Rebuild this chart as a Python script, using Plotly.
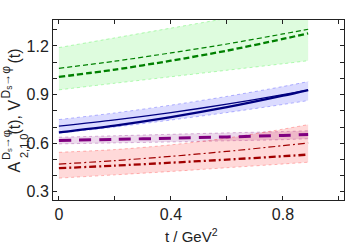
import plotly.graph_objects as go

t = [0.0, 0.2, 0.4, 0.6, 0.8, 0.89]

# V form factor (green)
green_thin = [1.062, 1.106, 1.157, 1.212, 1.274, 1.303]
green_thick = [1.009, 1.054, 1.109, 1.171, 1.243, 1.278]
green_up = [1.19, 1.25, 1.31, 1.37, 1.43, 1.457]
green_lo = [0.929, 0.970, 1.010, 1.050, 1.090, 1.109]

# A1 (blue)
blue_thin = [0.705, 0.744, 0.789, 0.841, 0.900, 0.928]
blue_thick = [0.667, 0.709, 0.761, 0.822, 0.893, 0.928]
blue_up = [0.746, 0.787, 0.835, 0.889, 0.950, 0.980]
blue_lo = [0.662, 0.700, 0.743, 0.789, 0.839, 0.863]

# A0 (purple)
purple_line = [0.617, 0.624, 0.631, 0.639, 0.648, 0.654]
purple_up = [0.637, 0.646, 0.655, 0.664, 0.672, 0.677]
purple_lo = [0.596, 0.602, 0.608, 0.615, 0.622, 0.628]

# A2 (red)
red_thin = [0.471, 0.493, 0.519, 0.550, 0.585, 0.602]
red_thick = [0.446, 0.462, 0.480, 0.499, 0.520, 0.530]
red_up = [0.544, 0.561, 0.590, 0.632, 0.687, 0.715]
red_lo = [0.385, 0.405, 0.426, 0.449, 0.472, 0.483]

x_ticks = [0, 0.4, 0.8]
x_labels = ["0", "0.4", "0.8"]
y_ticks = [0.3, 0.6, 0.9, 1.2]
y_labels = ["0.3", "0.6", "0.9", "1.2"]

fig = go.Figure()

def band(lo, up, rgb, alpha):
    edge = f"rgba({rgb},0.35)"
    fig.add_trace(go.Scatter(x=t, y=lo, mode="lines",
                             line=dict(color=edge, width=0.8, dash="dot", shape="spline", smoothing=0.8),
                             showlegend=False, hoverinfo="skip"))
    fig.add_trace(go.Scatter(x=t, y=up, mode="lines",
                             line=dict(color=edge, width=0.8, dash="dot", shape="spline", smoothing=0.8),
                             fill="tonexty", fillcolor=f"rgba({rgb},{alpha})", showlegend=False, hoverinfo="skip"))

band(green_lo, green_up, "0,235,0", 0.13)
band(blue_lo, blue_up, "0,0,255", 0.14)
band(purple_lo, purple_up, "128,0,128", 0.15)
band(red_lo, red_up, "255,0,0", 0.15)

def line(y, color, width, dash):
    fig.add_trace(go.Scatter(x=t, y=y, mode="lines",
                             line=dict(color=color, width=width, dash=dash, shape="spline", smoothing=0.8),
                             showlegend=False))

line(green_thin, "#008000", 1.2, "5px,3px")
line(green_thick, "#008000", 2.3, "6px,3px")
line(blue_thin, "#000080", 1.3, "solid")
line(blue_thick, "#000080", 2.3, "solid")
line(purple_line, "#800080", 3.0, "12px,8px")
line(red_thin, "#a00000", 1.2, "7px,3px,2px,3px")
line(red_thick, "#a00000", 2.3, "7px,3px,2px,3px")

L, R, T, B = 53, 5, 20, 47
W, H = 349, 247
pw, ph = W - L - R, H - T - B

def px(xp):
    return (xp - L) / pw

def py(yp):
    return (H - B - yp) / ph

font = "Liberation Sans, Arial, sans-serif"
main = 16
small = 11

pieces = [
    ("A", 175, 14, main),
    ("2,1,0", 160, 24, small),
    ("D<sub>s</sub>→φ", 162, 7, small),
    ("(t), V", 137, 14, main),
    ("D<sub>s</sub>→φ", 101, 7, 12),
    ("(t)", 66, 14, main),
]
for txt, ystart, xc, fs in pieces:
    fig.add_annotation(text=txt, xref="paper", yref="paper", x=px(xc), y=py(ystart),
                       xanchor="center", yanchor="bottom", textangle=-90, showarrow=False,
                       font=dict(family=font, size=fs, color="#222"))

fig.add_annotation(text="t / GeV<sup>2</sup>", xref="paper", yref="paper", x=px(191), y=py(235),
                   xanchor="center", yanchor="middle", showarrow=False,
                   font=dict(family=font, size=main - 1, color="#222"))

fig.update_layout(
    width=W, height=H,
    margin=dict(l=L, r=R, t=T, b=B),
    paper_bgcolor="white", plot_bgcolor="white",
    font=dict(family=font, size=main, color="#222"),
    xaxis=dict(range=[-0.021, 1.018], tickvals=x_ticks, ticktext=x_labels,
               ticks="inside", ticklen=4, tickcolor="#222", showline=True, linecolor="#222",
               linewidth=1, mirror="allticks", showgrid=False, zeroline=False,
               minor=dict(dtick=0.2, tick0=0, ticks="inside", ticklen=4, tickcolor="#222", showgrid=False),
               tickfont=dict(size=main)),
    yaxis=dict(range=[0.25, 1.36], tickvals=y_ticks, ticktext=y_labels,
               ticks="inside", ticklen=4, tickcolor="#222", showline=True, linecolor="#222",
               linewidth=1, mirror="allticks", showgrid=False, zeroline=False,
               minor=dict(dtick=0.1, tick0=0, ticks="inside", ticklen=4, tickcolor="#222", showgrid=False),
               tickfont=dict(size=main)),
)

fig.write_html("out.html", config={"displayModeBar": False},
               post_script="document.body.style.margin='0px';")
